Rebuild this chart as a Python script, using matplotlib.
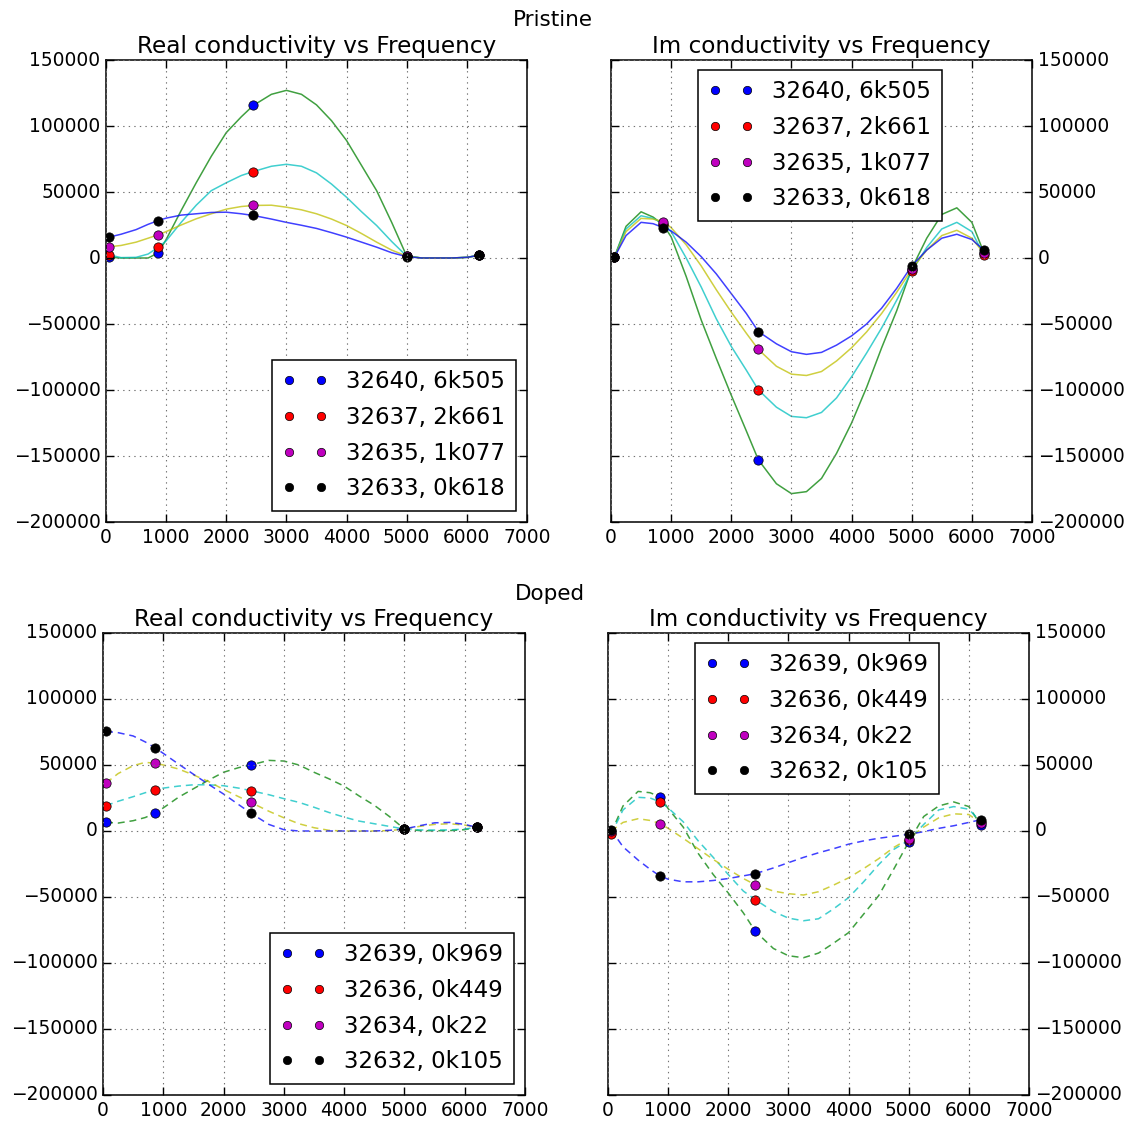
import matplotlib
matplotlib.use('Agg')
import matplotlib.pyplot as plt
import numpy as np

plt.style.use('classic')

# ---------------- data ----------------
freq = [50, 870, 2450, 5000, 6200]
# curve sampling grid (Hz) for the smooth fitted lines
grid = [50, 250, 500, 700, 870, 1000, 1250, 1500, 1750, 2000, 2250, 2450, 2750,
        3000, 3250, 3500, 3750, 4000, 4250, 4500, 4750, 5000, 5250, 5500, 5750,
        6000, 6200]

# Pristine samples
pristine_labels = ['32640, 6k505', '32637, 2k661', '32635, 1k077', '32633, 0k618']
pristine_real_pts = [
    [600, 3900, 115600, 1400, 2000],
    [2400, 8200, 65500, 1400, 2000],
    [8500, 17600, 39800, 1400, 2000],
    [15800, 28400, 32200, 1000, 2000],
]
pristine_im_pts = [
    [500, 25000, -152900, -8000, 4000],
    [500, 26000, -99900, -10000, 2000],
    [500, 27500, -69300, -8500, 3500],
    [1000, 23000, -55700, -6000, 6000],
]
# fitted curves (thousands)
pristine_real_fit_k = [
    [0.6, 0, 0, 0, 3.9, 14, 36, 57, 77, 95, 107, 115.6, 124, 127, 124, 116, 104, 89, 70, 51, 27, 1.4, 0, 0, 0, 0.5, 2],
    [2.4, 0.3, 0.5, 3, 8.2, 13, 27, 40, 51, 57, 62.5, 65.5, 69.5, 71, 69.5, 64.5, 56, 46, 35, 24.6, 12.5, 1.4, 0, 0, 0, 0.5, 2],
    [8.5, 9.5, 12, 15, 17.6, 20, 25, 29.7, 33.5, 37, 39, 39.8, 40, 38.5, 36.5, 33.5, 29.5, 24.6, 18.5, 12, 6, 1.4, 0, 0, 0, 0.5, 2],
    [15.8, 18, 21.5, 25.5, 28.4, 30.2, 32.5, 33.5, 34.5, 34.7, 33.5, 32.2, 29.5, 27, 24.8, 22.4, 19.2, 15.8, 12, 8.2, 4, 1, 0, 0, 0, 0.5, 2],
]
pristine_im_fit_k = [
    [0, 24, 35, 31, 25, 16, -14, -47, -76, -104, -131, -152.9, -171, -178.5, -177, -167, -148, -125, -98, -68, -40, -8, 15, 33, 38, 27, 4],
    [0, 22, 32, 30, 26, 20, 0, -22, -46, -67, -85, -99.9, -113, -120, -121, -117, -106, -90, -72, -53, -32, -10, 8, 22, 27, 20, 2],
    [0, 20, 30, 29.5, 27.5, 23, 10, -6, -24, -41, -57, -69.3, -82, -88, -89, -86, -78, -68, -56, -42, -26, -8.5, 6, 17, 21, 15, 3.5],
    [0, 17, 27, 26, 23, 20.5, 12, 1, -12, -27, -42, -55.7, -65, -71, -73, -71.5, -66, -59, -50, -38, -23, -6, 6, 15, 18, 14, 6],
]

# Doped samples
doped_labels = ['32639, 0k969', '32636, 0k449', '32634, 0k22', '32632, 0k105']
doped_real_pts = [
    [6600, 13600, 50000, 1500, 2800],
    [19200, 31300, 30600, 1500, 2800],
    [36400, 51300, 21700, 1500, 2800],
    [75500, 62900, 13600, 1500, 2800],
]
doped_im_pts = [
    [-1500, 25800, -76000, -8300, 4300],
    [-2500, 22000, -52000, -7000, 6800],
    [0, 5600, -40700, -5800, 6000],
    [1000, -34300, -32300, -2500, 8600],
]
doped_real_fit_k = [
    [6.6, 6, 7.8, 10.2, 13.6, 17.5, 25.5, 32, 38.5, 44.5, 48, 50, 53.5, 53, 50, 44.5, 39.5, 34, 26.5, 19.5, 11, 1.5, 0.3, 0.2, 0.3, 1, 2.8],
    [19.2, 22.5, 26, 29, 31.3, 32.5, 34, 35, 35, 34.3, 32.5, 30.6, 27.5, 24.5, 21.7, 18, 14, 10.5, 7.5, 5.5, 3.5, 1.5, 0.8, 0.7, 0.8, 1.5, 2.8],
    [36.4, 43.5, 49.5, 52, 51.3, 50, 47, 42.5, 37.5, 31.5, 26, 21.7, 15, 10, 5.5, 2.5, 0.5, 0, 0, 0, 0.3, 1.5, 3.5, 5, 5.5, 4.5, 2.8],
    [75.5, 74.5, 72, 67.5, 62.9, 58.8, 50.8, 43, 35.4, 28, 20, 13.6, 5, 1, 0, 0, 0, 0, 0, 0, 0.5, 1.5, 4, 6.2, 6.5, 5, 2.8],
]
doped_im_fit_k = [
    [-1.5, 19, 30, 29, 25.8, 17, 3, -17, -33, -47, -62, -76, -89, -94.5, -96, -92.5, -85, -77, -63, -49, -29, -8.3, 11, 19, 22, 18.5, 4.3],
    [-2.5, 16, 25.5, 25, 22, 17.5, 7, -7.5, -20, -33, -45.5, -52, -61, -66, -68, -66.5, -59, -50.5, -38.5, -25.5, -14, -7, 5, 16, 18.5, 16.5, 6.8],
    [0, 6.5, 9.3, 8, 5.6, 2, -5.5, -13.5, -21.5, -29, -36, -40.7, -45.5, -47.5, -48.5, -46, -41, -35.5, -28.5, -21, -12.5, -5.8, 3, 10, 13, 12.5, 6],
    [1, -12, -22, -29, -34.3, -36.5, -38.5, -38.5, -37.5, -36, -34, -32.3, -28, -24, -20, -16.5, -13.4, -10, -7.5, -5.5, -4, -2.5, -0.5, 2, 4, 6.5, 8.6],
]

point_colors = ['b', 'r', 'm', 'k']
fit_colors = ['g', 'c', 'y', 'b']

xticks = [0, 1000, 2000, 3000, 4000, 5000, 6000, 7000]
yticks = [-200000, -150000, -100000, -50000, 0, 50000, 100000, 150000]

# ---------------- figure ----------------
W, H = 1136, 1121
fig = plt.figure(figsize=(W / 100, H / 100), dpi=100)
fig.patch.set_facecolor('white')

TICK_FS = 13.4
TITLE_FS = 16.7
LEG_FS = 16.5


def make_ax(rect, title, pts, fits, labels, dashed, right, leg_loc, leg_anchor, leg_pad):
    ax = fig.add_axes(rect)
    ax.set_facecolor('white')
    for fit, c in zip(fits, fit_colors):
        ln, = ax.plot(grid, np.array(fit) * 1000, color=c, lw=1.1, alpha=0.75)
        if dashed:
            ln.set_dashes((5, 3.5))
    for p, c, lab in zip(pts, point_colors, labels):
        ax.plot(freq, p, 'o', color=c, mec='k', mew=0.5, ms=6.7, label=lab)
    ax.set_xlim(0, 7000)
    ax.set_ylim(-200000, 150000)
    ax.set_xticks(xticks)
    ax.set_yticks(yticks)
    ax.grid(True, color='0.45', linestyle=':', linewidth=0.8)
    ax.tick_params(labelsize=TICK_FS, direction='in', length=6, width=1.0,
                   top=True, right=True)
    if right:
        ax.tick_params(axis='y', labelleft=False, labelright=True)
    for s in ax.spines.values():
        s.set_linewidth(1.1)
    ax.set_title(title, fontsize=TITLE_FS, pad=5)
    ax.legend(loc=leg_loc, bbox_to_anchor=leg_anchor, numpoints=2,
              fontsize=LEG_FS, frameon=True, fancybox=False, markerscale=0.9,
              handlelength=2.0, handletextpad=0.8, borderpad=0.45,
              labelspacing=0.55, borderaxespad=leg_pad)
    leg = ax.get_legend()
    leg.get_frame().set_edgecolor('k')
    leg.get_frame().set_linewidth(1.1)
    return ax


def rect(l, t, r, b):
    return [l / W, 1 - b / H, (r - l) / W, (b - t) / H]


make_ax(rect(106, 60, 527, 522), 'Real conductivity vs Frequency',
        pristine_real_pts, pristine_real_fit_k, pristine_labels, False, False,
        'lower right', (1, 0), 0.5)
make_ax(rect(611, 60, 1032, 522), 'Im conductivity vs Frequency',
        pristine_im_pts, pristine_im_fit_k, pristine_labels, False, True,
        'upper left', (0.2067, 0.978), 0.0)
make_ax(rect(103, 633, 525, 1095), 'Real conductivity vs Frequency',
        doped_real_pts, doped_real_fit_k, doped_labels, True, False,
        'lower right', (1, 0), 0.5)
make_ax(rect(608, 633, 1029, 1095), 'Im conductivity vs Frequency',
        doped_im_pts, doped_im_fit_k, doped_labels, True, True,
        'upper left', (0.2067, 0.978), 0.0)

fig.text(553 / W, 1 - 20 / H, 'Pristine', ha='center', va='center', fontsize=15.5)
fig.text(550 / W, 1 - 594 / H, 'Doped', ha='center', va='center', fontsize=15.5)

fig.savefig('out.png', dpi=100, facecolor='white')
